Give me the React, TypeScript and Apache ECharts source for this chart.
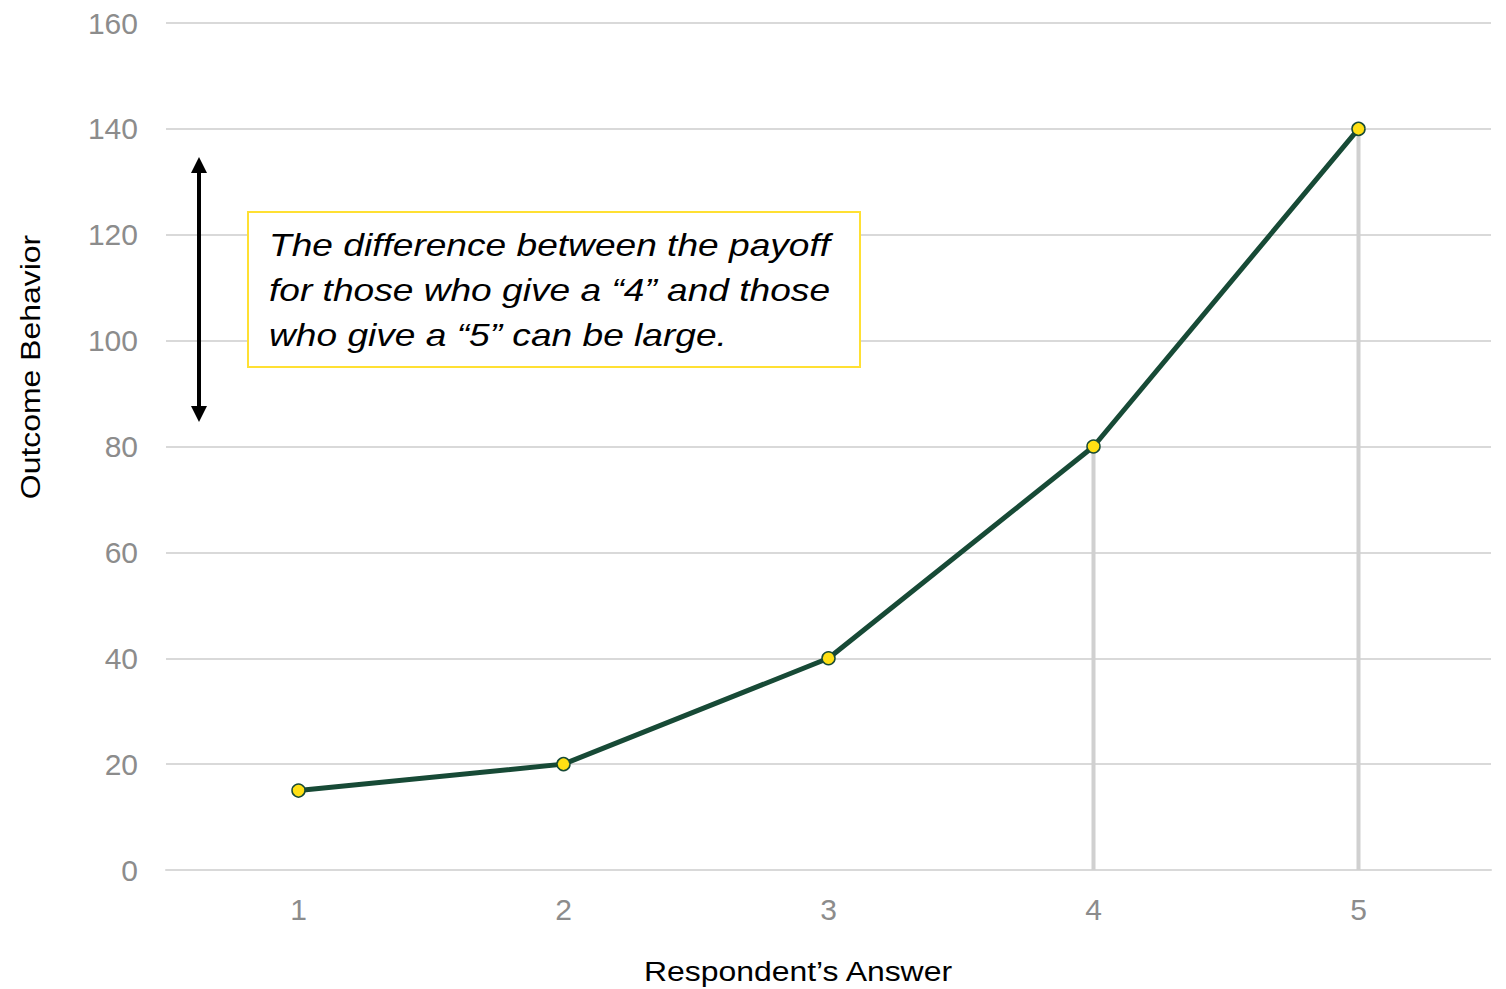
import React, { useEffect, useRef } from "react";
import * as echarts from "echarts";

const categories = ["1", "2", "3", "4", "5"];
const outcomeValues = [15, 20, 40, 80, 140];
const dropLineValues = [null, null, null, 80, 140];
const yTicks = { min: 0, max: 160, interval: 20 };
const annotationLines = [
  "The difference between the payoff",
  "for those who give a \u201c4\u201d and those",
  "who give a \u201c5\u201d can be large.",
];

export default function App() {
  const ref = useRef<HTMLDivElement>(null);
  useEffect(() => {
    if (!ref.current) return;
    const chart = echarts.init(ref.current, null, { renderer: "svg" });
    const font = '"Liberation Sans", Arial, sans-serif';
    chart.setOption({
      animation: false,
      backgroundColor: "#ffffff",
      grid: { left: 166, right: 15, top: 23, bottom: 119 },
      xAxis: {
        type: "category",
        data: categories,
        boundaryGap: true,
        axisLine: { show: true, lineStyle: { color: "#d9d9d9", width: 2 } },
        axisTick: { show: false },
        axisLabel: { color: "#8c8c8c", fontSize: 30, fontFamily: font, margin: 24 },
      },
      yAxis: {
        type: "value",
        min: yTicks.min,
        max: yTicks.max,
        interval: yTicks.interval,
        axisLine: { show: false },
        axisTick: { show: false },
        splitLine: { lineStyle: { color: "#d9d9d9", width: 2 } },
        axisLabel: { color: "#8c8c8c", fontSize: 30, fontFamily: font, margin: 28 },
      },
      series: [
        {
          type: "bar",
          data: dropLineValues,
          barWidth: 4,
          itemStyle: { color: "#d0d0d0" },
          z: 1,
          silent: true,
        },
        {
          type: "line",
          data: outcomeValues,
          symbol: "circle",
          symbolSize: 13,
          lineStyle: { color: "#174a36", width: 5 },
          itemStyle: { color: "#ffe014", borderColor: "#174a36", borderWidth: 1.5 },
          z: 3,
        },
      ],
      graphic: [
        { type: "line", shape: { x1: 199, y1: 170, x2: 199, y2: 408 }, style: { stroke: "#000", lineWidth: 4 }, z: 10 },
        { type: "polygon", shape: { points: [[199, 157], [191, 173], [207, 173]] }, style: { fill: "#000" }, z: 10 },
        { type: "polygon", shape: { points: [[199, 422], [191, 406], [207, 406]] }, style: { fill: "#000" }, z: 10 },
        {
          type: "rect",
          shape: { x: 248, y: 212, width: 612, height: 155 },
          style: { fill: "#ffffff", stroke: "#ffe033", lineWidth: 2 },
          z: 10,
        },
        ...annotationLines.map((t, i) => ({
          type: "text",
          x: 269,
          y: 245 + i * 45,
          scaleX: 1.16,
          style: {
            text: t,
            fill: "#000",
            font: `italic 32px ${font}`,
            textVerticalAlign: "middle",
            textAlign: "left",
          },
          z: 11,
        })),
        {
          type: "text",
          x: 798,
          y: 971,
          scaleX: 1.14,
          style: {
            text: "Respondent\u2019s Answer",
            fill: "#000",
            font: `28px ${font}`,
            textAlign: "center",
            textVerticalAlign: "middle",
          },
        },
        {
          type: "text",
          x: 30,
          y: 367,
          rotation: Math.PI / 2,
          scaleX: 1.14,
          style: {
            text: "Outcome Behavior",
            fill: "#000",
            font: `28px ${font}`,
            textAlign: "center",
            textVerticalAlign: "middle",
          },
        },
      ],
    });
    return () => chart.dispose();
  }, []);
  return (
    <div
      ref={ref}
      style={{ position: "fixed", left: 0, top: 0, width: 1506, height: 989, background: "#fff" }}
    />
  );
}
